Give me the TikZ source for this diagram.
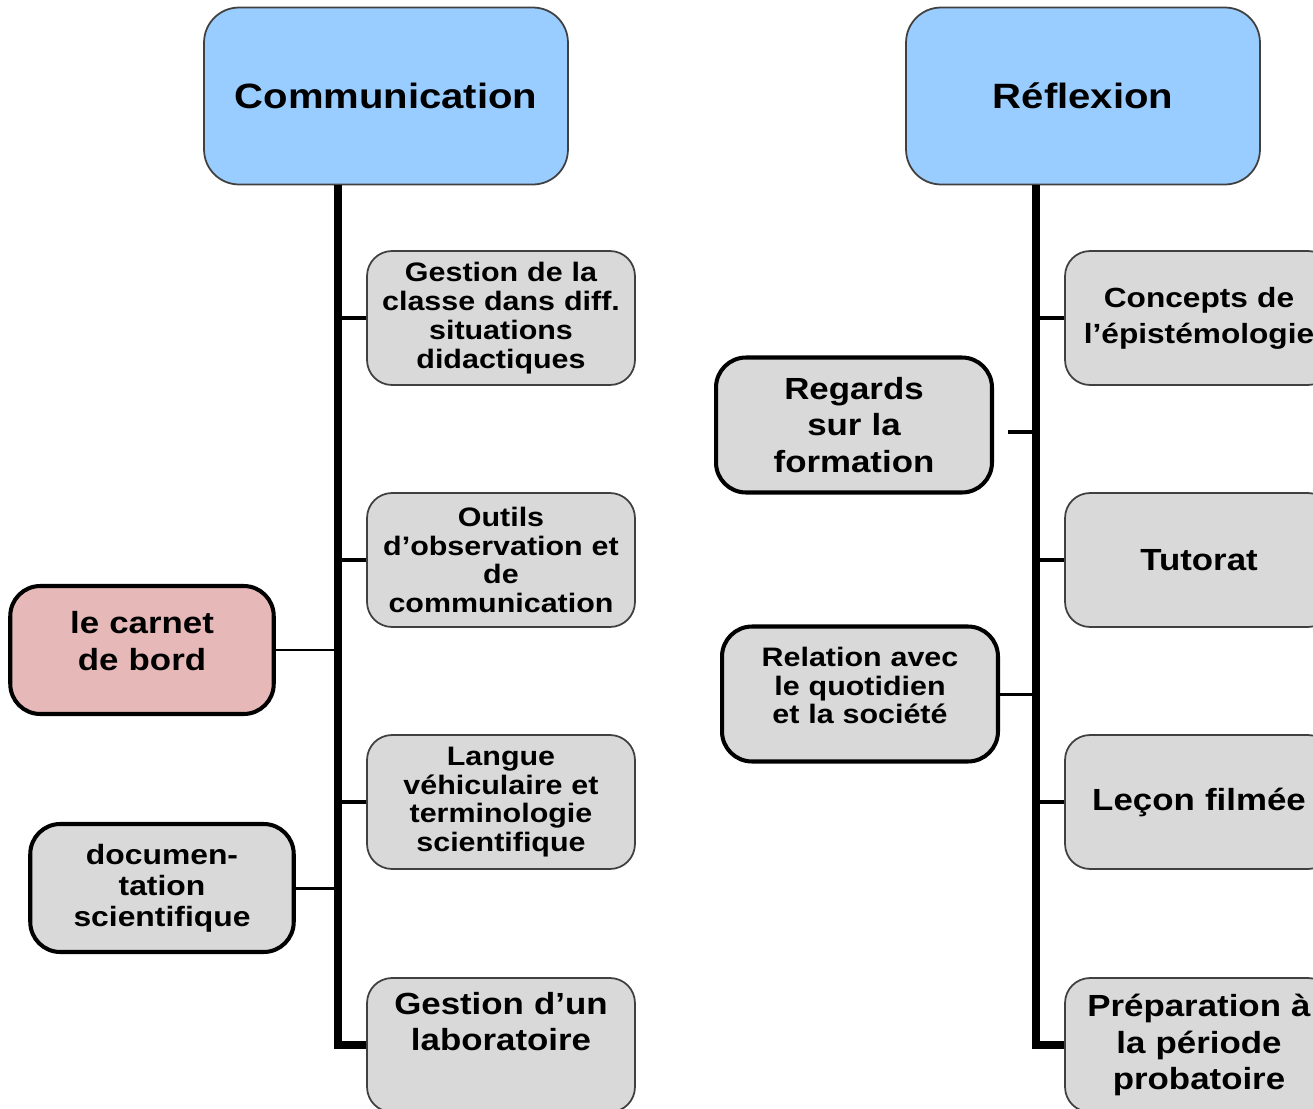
\documentclass[tikz,border=0pt]{standalone}
\usepackage{fontspec}
\setmainfont{Liberation Sans}[FakeStretch=1.14]
\usepackage{tikz}
\definecolor{headblue}{HTML}{99CCFF}
\definecolor{leafgray}{HTML}{D9D9D9}
\definecolor{carnetpink}{HTML}{E6B9B8}
\definecolor{edgegray}{HTML}{404040}
\newcommand{\txtS}{\fontsize{15.2}{16.4}\selectfont\bfseries}
\newcommand{\txtD}{\fontsize{15.9}{17.6}\selectfont\bfseries}
\newcommand{\txtC}{\fontsize{15.8}{20.4}\selectfont\bfseries}
\newcommand{\txtM}{\fontsize{17.4}{20.6}\selectfont\bfseries}
\newcommand{\txtL}{\fontsize{20}{24}\selectfont\bfseries}

\begin{document}
\begin{tikzpicture}[x=0.02cm, y=-0.02cm,
    head/.style={draw=edgegray, line width=1pt, fill=headblue, rounded corners=0.7cm, minimum width=7.28cm, minimum height=3.54cm, font=\txtL},
    leaf/.style={draw=edgegray, line width=1pt, fill=leafgray, rounded corners=0.5cm, minimum width=5.36cm, minimum height=2.68cm, text width=5.2cm, align=center, inner sep=1pt, font=\txtS},
    side/.style={draw=black, line width=2.3pt, fill=leafgray, rounded corners=0.6cm, minimum width=5.52cm, minimum height=2.7cm, text width=5.2cm, align=center, inner sep=1pt, font=\txtM},
    trunk/.style={line width=4pt},
    twig/.style={line width=2.8pt},
    tie/.style={line width=1.7pt}]
    \useasboundingbox (0,0) rectangle (1313,1109);

    % heads
    \node[head] (comm) at (386,96) {Communication};
    \node[head, minimum width=7.08cm] (refl) at (1083,96) {Réflexion};

    % communication branch
    \node[leaf] (classe) at (501,318) {Gestion de la\\classe dans diff.\\situations\\didactiques};
    \node[leaf] (outils) at (501,560) {Outils\\d’observation et\\de\\communication};
    \node[leaf] (langue) at (501,802) {Langue\\véhiculaire et\\terminologie\\scientifique};
    \node[leaf, font=\txtM, text depth=47pt] (labo) at (501,1045) {Gestion d’un\\laboratoire};
    \node[side, fill=carnetpink, minimum width=5.22cm, minimum height=2.56cm, text depth=30.9pt] (carnet) at (142,650) {le carnet\\de bord};
    \node[side, minimum width=5.2cm, minimum height=2.56cm, font=\txtD] (doc) at (162,888) {documen-\\tation\\scientifique};

    % reflexion branch
    \node[leaf, font=\txtC] (concepts) at (1199,318) {Concepts de\\l’épistémologie};
    \node[leaf, font=\txtM] (tutorat) at (1199,560) {Tutorat};
    \node[leaf, font=\txtM] (lecon) at (1199,802) {Leçon filmée};
    \node[leaf, font=\txtM] (prep) at (1199,1045) {Préparation à\\la période\\probatoire};
    \node[side] (regards) at (854,425) {Regards\\sur la\\formation};
    \node[side, font=\txtS, text depth=42.5pt] (relation) at (860,694) {Relation avec\\le quotidien\\et la société};

    % trunks and twigs
    \coordinate (tL) at (338,0);
    \coordinate (tR) at (1036,0);
    \draw[trunk] (comm.south -| tL) |- (labo.west);
    \draw[trunk] (refl.south -| tR) |- (prep.west);
    \foreach \nd in {classe,outils,langue} \draw[twig] (\nd.west) -- (\nd.west -| tL);
    \foreach \nd in {concepts,tutorat,lecon} \draw[twig] (\nd.west) -- (\nd.west -| tR);
    \draw[tie] (carnet.east) -- (carnet.east -| tL);
    \draw[tie] (doc.east) -- (doc.east -| tL);
    \draw[twig, shorten <=0.28cm] ([yshift=-0.14cm]regards.east) -- ([yshift=-0.14cm]regards.east -| tR);
    \draw[tie] (relation.east) -- (relation.east -| tR);
\end{tikzpicture}
\end{document}
